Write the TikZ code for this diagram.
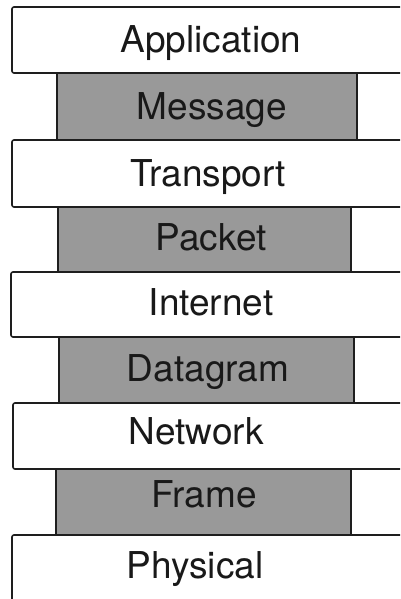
\documentclass[tikz,border=0pt]{standalone}
\usepackage{fontspec}
\setmainfont{TeX Gyre Heros}
\definecolor{boxgray}{RGB}{153,153,153}
\definecolor{edgecol}{RGB}{30,30,30}
\definecolor{txtcol}{RGB}{25,25,25}
\begin{document}
\begin{tikzpicture}[x=1pt,y=-1pt,
  layerbox/.style={draw=edgecol,line width=1.6pt,fill=white,rounded corners=2pt},
  unitbox/.style={draw=edgecol,line width=1.6pt,fill=boxgray},
  lbl/.style={anchor=base,inner sep=0pt,font=\fontsize{37}{40}\selectfont,text=txtcol}]
\useasboundingbox (0,0) rectangle (400,599);
\clip (0,0) rectangle (400,599);
% layers (white)
\draw[layerbox] (12,7) rectangle (420,73);
\draw[layerbox] (12,140) rectangle (420,207);
\draw[layerbox] (11,272) rectangle (420,337);
\draw[layerbox] (13,403) rectangle (420,469);
\draw[layerbox] (12,535) rectangle (420,620);
% data units (gray)
\draw[unitbox] (57,73) rectangle (357,140);
\draw[unitbox] (58,207) rectangle (351,272);
\draw[unitbox] (59,337) rectangle (354,403);
\draw[unitbox] (56,469) rectangle (351,535);
% labels
\node[lbl] (app) at (211,53) {Application};
\node[lbl] (msg) at (212,119) {Message};
\node[lbl] (trn) at (208,186) {Transport};
\node[lbl] (pkt) at (211,250) {Packet};
\node[lbl] (inet) at (211,315) {Internet};
\node[lbl] (dgm) at (208,381) {Datagram};
\node[lbl] (net) at (196,444) {Network};
\node[lbl] (frm) at (204,507) {Frame};
\node[lbl] (phy) at (195,578) {Physical};
\end{tikzpicture}
\end{document}
